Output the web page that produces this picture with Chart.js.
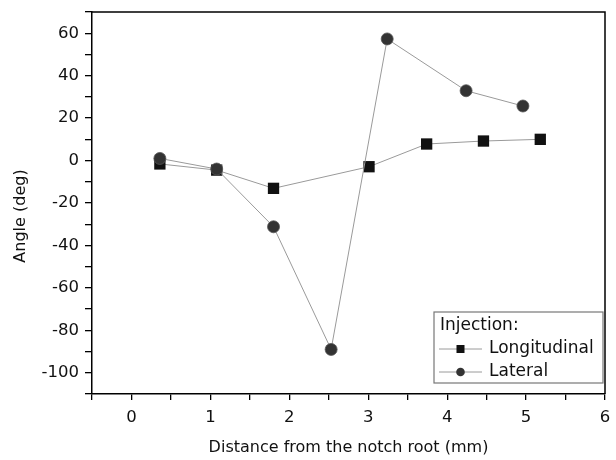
<!DOCTYPE html>
<html>
<head>
<meta charset="utf-8">
<script src="https://cdn.jsdelivr.net/npm/chart.js@4.4.1/dist/chart.umd.min.js"></script>
<style>
  html, body { margin: 0; padding: 0; background: #fff; }
  #wrap { width: 616px; height: 460px; position: relative; }
</style>
</head>
<body>
<div id="wrap"><canvas id="c" width="616" height="460"></canvas></div>
<script>
// ---- data ----
const longX = [0.36, 1.08, 1.80, 3.01, 3.74, 4.46, 5.18];
const longY = [-1.6, -4.5, -13.1, -2.9, 7.8, 9.2, 10.0];
const latX  = [0.36, 1.08, 1.80, 2.53, 3.24, 4.24, 4.96];
const latY  = [1.0, -4.0, -31.2, -89.0, 57.3, 32.9, 25.7];
const seriesNames = ['Longitudinal', 'Lateral'];
const legendTitle = 'Injection:';
const xTitle = 'Distance from the notch root (mm)';
const yTitle = 'Angle (deg)';

const FONT = '"DejaVu Sans", "Liberation Sans", Arial, sans-serif';

function pts(xs, ys) { return xs.map((x, i) => ({ x: x, y: ys[i] })); }

const framePlugin = {
  id: 'frame',
  afterDraw(chart) {
    const { ctx, chartArea: a } = chart;
    ctx.save();
    ctx.strokeStyle = '#000';
    ctx.lineWidth = 1.5;
    ctx.beginPath();
    ctx.moveTo(a.left, a.top);
    ctx.lineTo(a.right, a.top);
    ctx.lineTo(a.right, a.bottom);
    ctx.stroke();

    // y axis title
    ctx.fillStyle = '#111';
    ctx.font = '16px ' + FONT;
    ctx.textAlign = 'center';
    ctx.textBaseline = 'middle';
    ctx.translate(21, 216);
    ctx.rotate(-Math.PI / 2);
    ctx.fillText(yTitle, 0, 0);
    ctx.restore();

    // legend
    ctx.save();
    const bx = 434, by = 312, bw = 169, bh = 71;
    ctx.fillStyle = '#fff';
    ctx.fillRect(bx, by, bw, bh);
    ctx.strokeStyle = '#777';
    ctx.lineWidth = 1.2;
    ctx.strokeRect(bx, by, bw, bh);
    ctx.fillStyle = '#111';
    ctx.font = '17px ' + FONT;
    ctx.textAlign = 'left';
    ctx.textBaseline = 'middle';
    ctx.fillText(legendTitle, 440, 326);
    const rows = [349, 372];
    chart.data.datasets.forEach((ds, i) => {
      const y = rows[i];
      ctx.strokeStyle = ds.borderColor;
      ctx.lineWidth = 1;
      ctx.beginPath();
      ctx.moveTo(439, y); ctx.lineTo(482, y);
      ctx.stroke();
      ctx.fillStyle = ds.pointBackgroundColor;
      if (ds.pointStyle === 'rect') {
        ctx.fillRect(456.5, y - 4, 8, 8);
      } else {
        ctx.beginPath();
        ctx.arc(460.5, y, 4.3, 0, Math.PI * 2);
        ctx.fill();
      }
      ctx.fillStyle = '#111';
      ctx.fillText(ds.label, 489, y);
    });
    ctx.restore();
  }
};

new Chart(document.getElementById('c'), {
  type: 'scatter',
  data: {
    datasets: [
      {
        label: seriesNames[0],
        data: pts(longX, longY),
        showLine: true,
        borderColor: '#9a9a9a',
        borderWidth: 1,
        pointStyle: 'rect',
        pointRadius: 8,
        pointHoverRadius: 8,
        pointBackgroundColor: '#111',
        pointBorderColor: '#111',
        pointBorderWidth: 0,
        order: 1
      },
      {
        label: seriesNames[1],
        data: pts(latX, latY),
        showLine: true,
        borderColor: '#9a9a9a',
        borderWidth: 1,
        pointStyle: 'circle',
        pointRadius: 6,
        pointHoverRadius: 6,
        pointBackgroundColor: '#333',
        pointBorderColor: '#555',
        pointBorderWidth: 0.8,
        order: 0
      }
    ]
  },
  options: {
    responsive: false,
    animation: false,
    events: [],
    layout: { padding: { top: 12, right: 11, left: 0, bottom: 0 } },
    plugins: { legend: { display: false }, tooltip: { enabled: false } },
    scales: {
      x: {
        type: 'linear',
        min: -0.5, max: 6,
        afterFit(s) { s.height = 66; s.paddingLeft = 0; s.paddingRight = 0; s.paddingTop = 0; s.paddingBottom = 0; },
        ticks: {
          stepSize: 0.5,
          autoSkip: false,
          maxRotation: 0,
          color: '#111',
          font: { family: FONT, size: 16.5 },
          padding: 8,
          callback: v => (Math.abs(v - Math.round(v)) < 1e-9 ? String(Math.round(v)) : '')
        },
        grid: { drawOnChartArea: false, drawTicks: true, tickLength: 6, color: '#000', lineWidth: 1.3 },
        border: { display: true, color: '#000', width: 1.5 },
        title: {
          display: true, text: xTitle, color: '#111',
          font: { family: FONT, size: 16 },
          padding: { top: 0, bottom: 3 }
        }
      },
      y: {
        type: 'linear',
        min: -110, max: 70,
        afterFit(s) { s.width = 92; s.paddingTop = 0; s.paddingBottom = 0; s.paddingLeft = 0; s.paddingRight = 0; },
        ticks: {
          stepSize: 10,
          autoSkip: false,
          color: '#111',
          font: { family: FONT, size: 16.5 },
          padding: 6,
          callback: v => (Math.round(v) % 20 === 0 ? String(Math.round(v)) : '')
        },
        grid: { drawOnChartArea: false, drawTicks: true, tickLength: 7, color: '#000', lineWidth: 1.3 },
        border: { display: true, color: '#000', width: 1.5 }
      }
    }
  },
  plugins: [framePlugin]
});
</script>
</body>
</html>
